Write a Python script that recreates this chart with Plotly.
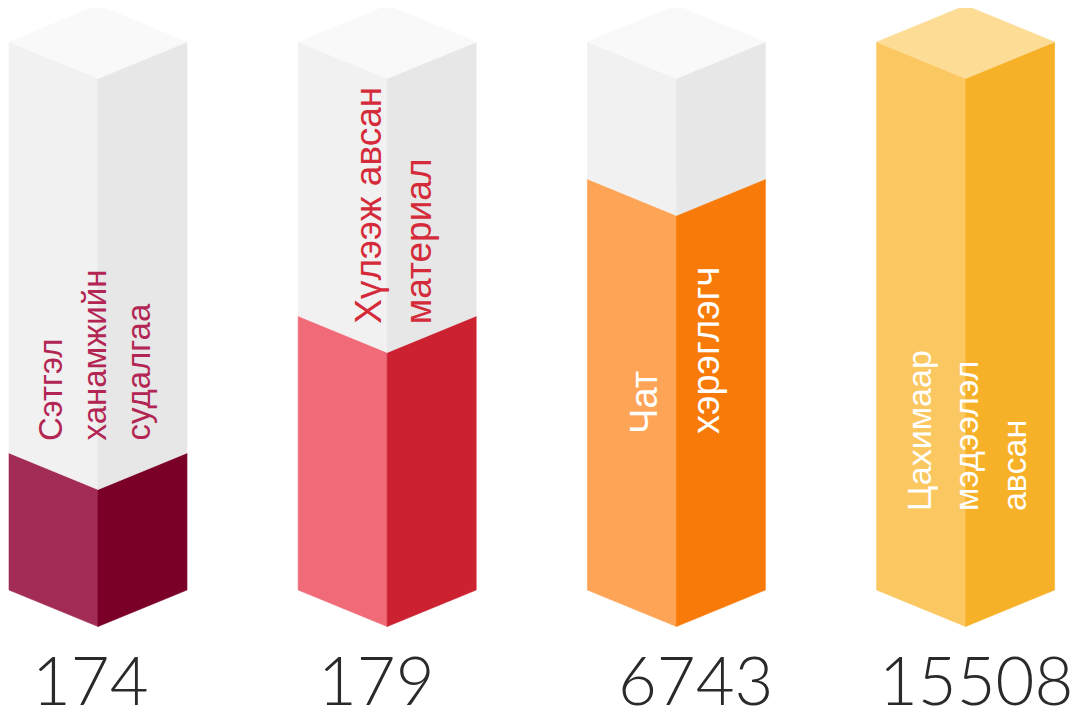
import plotly.graph_objects as go

# ---------------- data ----------------
categories = [
    ["Сэтгэл", "ханамжийн", "судалгаа"],
    ["Хүлээж авсан", "материал"],
    ["Чат", "хэрэглэгч"],
    ["Цахимаар", "мэдээлэл", "авсан"],
]
values = [174, 179, 6743, 15508]
fill_levels = [1, 2, 3, 4]      # filled height of each column (rank)
max_level = 4                   # full column height

# ---------------- style ----------------
front_colors = ["#A32C56", "#F06A78", "#FDA456", "#FBC760"]
side_colors = ["#7A0028", "#CB2130", "#F87A08", "#F7B128"]
top_colors = ["#FDDC96", "#FDDC96", "#FDDC96", "#FDDC96"]
label_colors = ["#B32553", "#D42A3A", "#FFFFFF", "#FFFFFF"]
white_front, white_side, white_top = "#F1F1F1", "#E7E7E7", "#F9F9F9"

PAGE_W, PAGE_H = 1085, 707
BODY = 8                          # default page margin of the html body
W, H = PAGE_W - BODY, PAGE_H - BODY
PX_X = 289.2        # pixels per category step
PX_Y = 137.0        # pixels per level
X0_PX = 98.0        # page x of first column centre
BASE_PX = 590.0     # page y of base corners
half_w = 89.0 / PX_X
depth = 36.5 / PX_Y

label_dx_px = [-48, -19, -33, -47]
label_gap_px = [44, 50, 62, 47.5]
label_bottom_px = [443, 326, 436, 513]
label_sizes = [33, 37, 38, 34]
number_dx_px = [-8, -11, 19, 10]
number_y_px = 679

fig = go.Figure()


def poly(xs, ys, color):
    fig.add_trace(go.Scatter(
        x=xs + [xs[0]], y=ys + [ys[0]], mode="lines", fill="toself",
        fillcolor=color, line=dict(width=0.6, color=color),
        hoverinfo="skip", showlegend=False))


for i, (lev, val) in enumerate(zip(fill_levels, values)):
    L, C, R = i - half_w, i, i + half_w
    T = max_level
    # coloured part
    poly([L, C, C, L], [0, -depth, lev - depth, lev], front_colors[i])
    poly([C, R, R, C], [-depth, 0, lev, lev - depth], side_colors[i])
    # empty (white) part
    if lev < T:
        poly([L, C, C, L], [lev, lev - depth, T - depth, T], white_front)
        poly([C, R, R, C], [lev - depth, lev, T, T - depth], white_side)
        tcol = white_top
    else:
        tcol = top_colors[i]
    poly([L, C, R, C], [T, T + depth, T, T - depth], tcol)

    # rotated label lines
    for k, line in enumerate(categories[i]):
        fig.add_annotation(
            x=i + (label_dx_px[i] + k * label_gap_px[i]) / PX_X,
            y=(BASE_PX - label_bottom_px[i]) / PX_Y,
            text=line, textangle=-90, showarrow=False,
            xanchor="center", yanchor="bottom",
            font=dict(family="Liberation Sans, Arial", size=label_sizes[i],
                      color=label_colors[i]))

    # value under the column
    fig.add_annotation(
        x=i + number_dx_px[i] / PX_X,
        y=(BASE_PX - number_y_px) / PX_Y,
        text=f"{val}", showarrow=False, xanchor="center", yanchor="middle",
        font=dict(family="Lato, Open Sans", size=67, weight=300,
                  color="#2A2A2A"))

fig.update_layout(
    width=W, height=H, margin=dict(l=0, r=0, t=0, b=0),
    paper_bgcolor="white", plot_bgcolor="white",
    xaxis=dict(range=[(BODY - X0_PX) / PX_X, (PAGE_W - X0_PX) / PX_X],
               visible=False, fixedrange=True),
    yaxis=dict(range=[(BASE_PX - PAGE_H) / PX_Y, (BASE_PX - BODY) / PX_Y],
               visible=False, fixedrange=True),
)

fig.write_html("out.html", config={"displayModeBar": False})
